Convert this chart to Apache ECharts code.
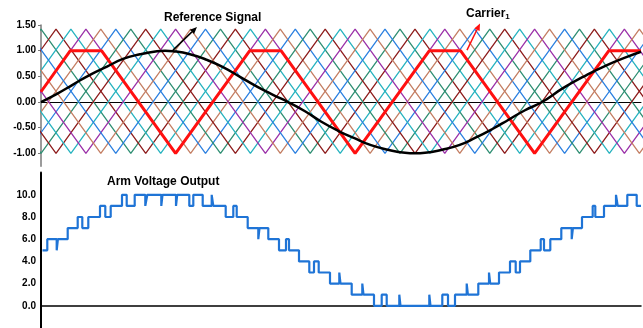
<!DOCTYPE html>
<html>
<head>
<meta charset="utf-8">
<script src="https://cdn.jsdelivr.net/npm/echarts@6.0.0/dist/echarts.min.js"></script>
<style>
  html, body { margin: 0; padding: 0; background: #fff; }
  #chart { width: 643px; height: 328px; }
</style>
</head>
<body>
<div id="chart"></div>
<script>
// time axis runs 0..600 for both panels

// lattice points where the phase-shifted carriers turn (first entry is 6 steps before the axis)
const carrierVertexX = [-89.8, -74.8, -59.8, -44.9, -29.9, -15.0,
  0, 15.0, 29.9, 44.9, 59.8, 74.8, 89.8, 104.7, 119.7, 134.6, 149.6, 164.5,
  179.5, 194.4, 209.4, 224.4, 239.3, 254.3, 269.2, 284.2, 299.2, 314.1, 329.1,
  344.0, 359.0, 374.0, 388.9, 403.8, 418.8, 433.8, 448.8, 463.7, 478.7, 493.6,
  508.6, 523.6, 538.5, 553.4, 568.4, 583.4, 598.4, 613.3, 628.3, 643.3, 658.2,
  673.2, 688.2];
const carrierPeak = 1.42;
const carrierTrough = -1.0;
const carrierColors = ['#2f8f73', '#8e1c1c', '#27b3bf', '#9b31a9', '#c47e63', '#2c80e0'];

// carrier 1, clipped at 1.0
const carrier1X = [0, 29.3, 60.5, 134.6, 208.8, 240, 314.1, 388.4, 419.5, 493.6, 567.9, 600];
const carrier1Y = [0.2, 1, 1, -1, 1, 1, -1, 1, 1, -1, 1, 1];

const referenceX = [0, 16, 32, 49, 66, 82, 99, 116, 124, 132, 149, 166, 182, 199, 216, 232,
  247, 264, 280, 297, 314, 330, 347, 364, 374, 384, 401, 418, 434, 451, 468, 484,
  501, 522, 546, 566, 586, 600];
const referenceY = [0, 0.16, 0.34, 0.53, 0.69, 0.84, 0.93, 0.99, 1.0, 0.99, 0.93, 0.82, 0.68, 0.49, 0.30, 0.14,
  0, -0.18, -0.38, -0.56, -0.71, -0.84, -0.93, -0.99, -1.0, -0.99, -0.93, -0.84, -0.70, -0.53, -0.34, -0.16,
  0, 0.27, 0.53, 0.72, 0.88, 0.98];

// arm voltage: level holds from armTime[i] until the next entry
const armTime = [1.5, 6.3, 15.7, 16.9, 26.7, 36.7, 41.3, 47.3, 59, 64.3, 69.7, 81, 85.7, 93.7,
  104.3, 106.3, 120.3, 121.5, 135, 136.2, 148.3, 152.3, 161.7, 170.7, 172.3, 184.7, 192.3,
  195.7, 206.7, 217.3, 218.5, 227.3, 238, 245, 248, 258, 268.3, 273, 277.7, 289, 298.3,
  299.5, 310.7, 321.3, 322.5, 333, 340.7, 345.7, 358.3, 359.5, 388.3, 389.5, 401.3, 407,
  414, 425.7, 426.9, 437.3, 448, 449.2, 458, 469, 474.7, 479, 489.3, 499.7, 503, 509.3,
  520.3, 530.7, 531.9, 541, 551.7, 554.3, 563, 575, 576.7, 586.3, 595.7, 600];
const armLevel = [5, 6, 5, 6, 7, 8, 7, 8, 9, 8, 9, 10, 9, 10,
  9, 10, 9, 10, 9, 10, 9, 10, 9, 10, 9, 8, 9,
  8, 7, 6, 7, 6, 5, 6, 5, 4, 3, 4, 3, 2, 3,
  2, 1, 2, 1, 0, 1, 0, 1, 0, 1, 0, 1, 0,
  1, 2, 1, 2, 3, 2, 3, 4, 3, 4, 5, 6, 5, 6,
  7, 6, 7, 8, 9, 8, 9, 10, 9, 10, 9, 9];

const topTicks = [-1, -0.5, 0, 0.5, 1, 1.5];
const bottomTicks = [0, 2, 4, 6, 8, 10];

// annotation arrows [from, to] in data coords of the top panel
const refArrow = [[132, 1.01], [156, 1.46]];
const carrierArrow = [[426, 1.01], [439, 1.53]];

const font = 'Liberation Sans, Arial, sans-serif';
const chart = echarts.init(document.getElementById('chart'));

const carrierSeries = [];
for (let k = 0; k < 12; k++) {
  const pts = [];
  carrierVertexX.forEach((x, i) => {
    const m = (((i - 6 - k) % 12) + 12) % 12;
    if (m === 0) pts.push([x, carrierPeak]);
    else if (m === 6) pts.push([x, carrierTrough]);
  });
  carrierSeries.push({
    type: 'line',
    xAxisIndex: 0,
    yAxisIndex: 0,
    data: pts,
    symbol: 'none',
    silent: true,
    lineStyle: { color: carrierColors[k % 6], width: 1.3 },
  });
}

const valueLabel = (digits) => ({
  color: '#000',
  fontFamily: font,
  fontWeight: 'bold',
  fontSize: 10,
  margin: 5,
  formatter: (v) => Number(v).toFixed(digits),
});

const option = {
  animation: false,
  grid: [
    { left: 41, top: 25, width: 600, height: 141.2 },
    { left: 41, top: 172.6, width: 600, height: 155.4 },
  ],
  xAxis: [
    {
      gridIndex: 0, type: 'value', min: 0, max: 600,
      axisLabel: { show: false }, axisTick: { show: false }, splitLine: { show: false },
      axisLine: { onZero: true, lineStyle: { color: '#000', width: 1 } },
    },
    {
      gridIndex: 1, type: 'value', min: 0, max: 600,
      axisLabel: { show: false }, axisTick: { show: false }, splitLine: { show: false },
      axisLine: { onZero: true, lineStyle: { color: '#000', width: 1.5 } },
    },
  ],
  yAxis: [
    {
      gridIndex: 0, type: 'value', min: -1.25, max: 1.5,
      splitLine: { show: false },
      axisLine: { show: true, lineStyle: { color: '#7a7a7a', width: 1.5 } },
      axisTick: { show: true, customValues: topTicks, length: 3, lineStyle: { color: '#7a7a7a' } },
      axisLabel: Object.assign({ customValues: topTicks }, valueLabel(2)),
    },
    {
      gridIndex: 1, type: 'value', min: -2, max: 12,
      splitLine: { show: false },
      axisLine: { show: true, lineStyle: { color: '#000', width: 2 } },
      axisTick: { show: false },
      axisLabel: Object.assign({ customValues: bottomTicks }, valueLabel(1)),
    },
  ],
  series: [
    ...carrierSeries,
    {
      name: 'Carrier1',
      type: 'line',
      xAxisIndex: 0, yAxisIndex: 0,
      data: carrier1X.map((x, i) => [x, carrier1Y[i]]),
      symbol: 'none',
      lineStyle: { color: '#ff1010', width: 3 },
    },
    {
      name: 'Reference Signal',
      type: 'line',
      xAxisIndex: 0, yAxisIndex: 0,
      data: referenceX.map((x, i) => [x, referenceY[i]]),
      smooth: true,
      symbol: 'none',
      lineStyle: { color: '#000', width: 2.5 },
    },
    {
      name: 'Arm Voltage Output',
      type: 'line',
      xAxisIndex: 1, yAxisIndex: 1,
      data: armTime.map((t, i) => [t, armLevel[i]]),
      step: 'end',
      symbol: 'none',
      lineStyle: { color: '#1f74d6', width: 2.2 },
    },
  ],
};

chart.setOption(option);

function arrow(pair, color) {
  const a = chart.convertToPixel({ gridIndex: 0 }, pair[0]);
  const b = chart.convertToPixel({ gridIndex: 0 }, pair[1]);
  const dx = b[0] - a[0], dy = b[1] - a[1];
  const len = Math.hypot(dx, dy);
  const ux = dx / len, uy = dy / len;
  const hl = 7, hw = 3;
  const bx = b[0] - ux * hl, by = b[1] - uy * hl;
  return [
    { type: 'line', shape: { x1: a[0], y1: a[1], x2: bx, y2: by }, style: { stroke: color, lineWidth: 1.5 }, z: 100 },
    {
      type: 'polygon', z: 100,
      shape: { points: [[b[0], b[1]], [bx - uy * hw, by + ux * hw], [bx + uy * hw, by - ux * hw]] },
      style: { fill: color },
    },
  ];
}

chart.setOption({
  graphic: [
    ...arrow(refArrow, '#000'),
    ...arrow(carrierArrow, '#ff1010'),
    {
      type: 'text', z: 100, x: 164, y: 18,
      style: { text: 'Reference Signal', fill: '#000', fontFamily: font, fontWeight: 'bold', fontSize: 12, verticalAlign: 'middle' },
    },
    {
      type: 'text', z: 100, x: 466, y: 14,
      style: {
        text: '{a|Carrier}{b|1}',
        verticalAlign: 'middle',
        rich: {
          a: { fill: '#000', fontFamily: font, fontWeight: 'bold', fontSize: 12 },
          b: { fill: '#000', fontFamily: font, fontWeight: 'bold', fontSize: 8, padding: [6, 0, 0, 0] },
        },
      },
    },
    {
      type: 'text', z: 100, x: 107, y: 182,
      style: { text: 'Arm Voltage Output', fill: '#000', fontFamily: font, fontWeight: 'bold', fontSize: 12, verticalAlign: 'middle' },
    },
  ],
});
</script>
</body>
</html>
